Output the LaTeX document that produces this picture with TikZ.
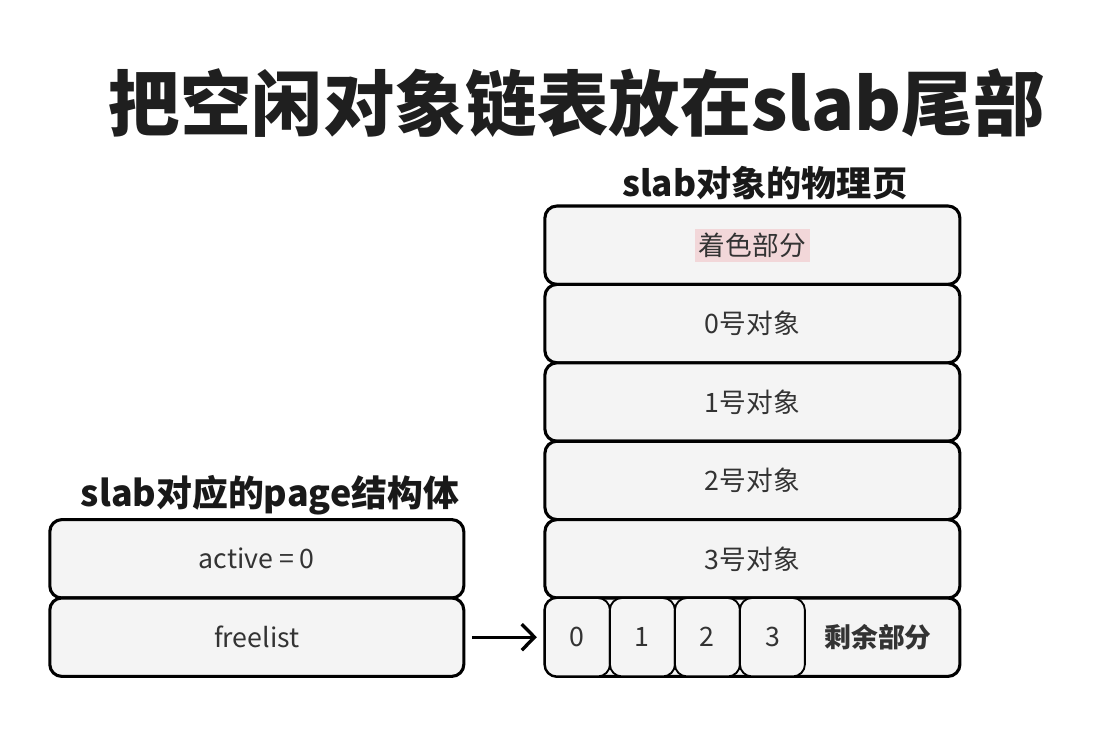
\documentclass[tikz,border=0pt]{standalone}
\usepackage{fontspec}
\setmainfont{Noto Sans CJK SC}
\usetikzlibrary{arrows.meta, positioning}
\definecolor{boxfill}{HTML}{F4F4F4}
\definecolor{txtgray}{HTML}{333333}
\definecolor{colorpink}{HTML}{F2D7D9}

\begin{document}
\begin{tikzpicture}[
    node distance=0pt,
    every node/.style={font=\fontsize{19}{22}\selectfont, text=txtgray},
    box/.style={draw=black, line width=2.2pt, rounded corners=0.3cm, fill=boxfill, outer sep=0pt, minimum width=10.375cm, minimum height=1.96cm, align=center},
    cell/.style={draw=black, line width=1.3pt, rounded corners=0.3cm, fill=boxfill, outer sep=0pt, minimum width=1.625cm, minimum height=1.96cm},
    heading/.style={font=\fontsize{25}{29}\selectfont\bfseries, text=black!90},
    line/.style={-{Straight Barb[length=0.32cm, width=0.65cm]}, line width=2.4pt, black}
]
\useasboundingbox (0,0) rectangle (27.4,18.2);

% title
\node[font=\fontsize{50.8}{60}\selectfont\bfseries, text=black!88] (title) at (14.42,15.62) {把空闲对象链表放在slab尾部};

% slab physical page
\node[heading] (pagehead) at (19.12,13.62) {slab对象的物理页};
\node[box] (color) at (18.81,12.07) {\colorbox{colorpink}{着色部分}};
\node[box, below=of color] (obj0) {0号对象};
\node[box, below=of obj0] (obj1) {1号对象};
\node[box, below=of obj1] (obj2) {2号对象};
\node[box, below=of obj2] (obj3) {3号对象};
\node[box, below=of obj3] (rest) {};
\node[cell, anchor=west] (f0) at (rest.west) {0};
\node[cell, right=of f0] (f1) {1};
\node[cell, right=of f1] (f2) {2};
\node[cell, right=of f2] (f3) {3};
\node[font=\fontsize{19}{22}\selectfont\bfseries] (remain) at (rest.center -| 21.95,0) {剩余部分};

% page struct
\node[heading, font=\fontsize{25.5}{29}\selectfont\bfseries] (structhead) at (6.75,5.82) {slab对应的page结构体};
\node[box, minimum width=10.35cm] (active) at (6.42,4.23) {active = 0};
\node[box, minimum width=10.35cm, below=of active] (freelist) {freelist};

\draw[line, shorten <=0.2cm, shorten >=0.2cm] (freelist.east) -- (freelist.east -| rest.west);
\end{tikzpicture}
\end{document}
